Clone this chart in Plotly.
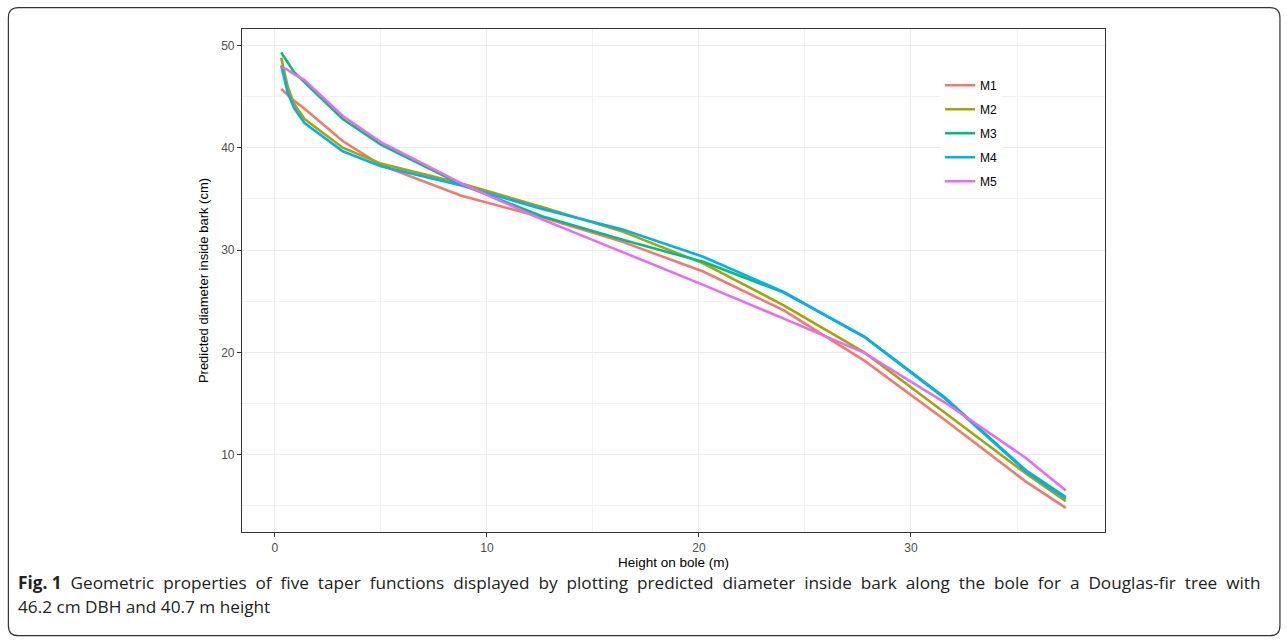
import plotly.graph_objects as go

# Heights on bole (m)
heights = [0.3, 0.6, 0.9, 1.4, 3.2, 5.0, 8.8, 12.6, 16.4, 20.2, 24.0, 27.8, 31.6, 35.4, 37.3]

# Predicted diameter inside bark (cm) for each model
m1 = [45.75, 45.2, 44.6, 43.8, 40.65, 38.3, 35.3, 33.2, 30.8, 27.9, 24.1, 19.2, 13.4, 7.4, 4.8]
m2 = [48.8, 46.0, 44.3, 42.8, 40.0, 38.45, 36.5, 34.2, 31.8, 28.7, 24.6, 20.0, 14.1, 8.2, 5.45]
m3 = [49.3, 48.3, 47.4, 46.4, 42.8, 40.3, 36.4, 33.3, 31.0, 28.85, 25.85, 21.55, 15.6, 8.5, 5.85]
m4 = [48.05, 45.4, 43.9, 42.4, 39.65, 38.2, 36.3, 34.0, 32.0, 29.35, 25.9, 21.5, 15.5, 8.4, 5.7]
m5 = [47.9, 47.6, 47.2, 46.6, 43.1, 40.55, 36.5, 33.0, 29.8, 26.6, 23.3, 19.95, 15.1, 9.7, 6.5]

series_names = ["M1", "M2", "M3", "M4", "M5"]
series_values = [m1, m2, m3, m4, m5]
colors = ["#F8766D", "#A3A500", "#00BF7D", "#00B0F6", "#E76BF3"]

x_ticks = [0, 10, 20, 30]
y_ticks = [10, 20, 30, 40, 50]

caption_bold = "Fig. 1"
caption_line1 = (" Geometric properties of five taper functions displayed by plotting predicted "
                 "diameter inside bark along the bole for a Douglas-fir tree with")
caption_line2 = "46.2 cm DBH and 40.7 m height"

W, H = 1287, 643
L, R, T, B = 241.7, 1105.0, 29.3, 532.3

fig = go.Figure()
for i, (name, vals, col) in enumerate(zip(series_names, series_values, colors)):
    fig.add_trace(go.Scatter(
        x=heights, y=vals, mode="lines", name=name,
        line=dict(color=col, width=2.6),
        legendgroup=name,
    ))

def px_x(p):
    return (p - L) / (R - L)

def px_y(p):
    return (B - p) / (B - T)

# outer rounded frame
x0, y0, x1, y1, r = 8, 8, 1280, 636, 10
path = (f"M {px_x(x0 + r)},{px_y(y0)} L {px_x(x1 - r)},{px_y(y0)} "
        f"Q {px_x(x1)},{px_y(y0)} {px_x(x1)},{px_y(y0 + r)} "
        f"L {px_x(x1)},{px_y(y1 - r)} Q {px_x(x1)},{px_y(y1)} {px_x(x1 - r)},{px_y(y1)} "
        f"L {px_x(x0 + r)},{px_y(y1)} Q {px_x(x0)},{px_y(y1)} {px_x(x0)},{px_y(y1 - r)} "
        f"L {px_x(x0)},{px_y(y0 + r)} Q {px_x(x0)},{px_y(y0)} {px_x(x0 + r)},{px_y(y0)} Z")
fig.add_shape(type="path", path=path, xref="paper", yref="paper",
              line=dict(color="#333333", width=1.2), fillcolor="rgba(0,0,0,0)", layer="above")

# justified first caption line: widen word gaps
line1_text = caption_line1.replace(" ", " &nbsp;")
fig.add_annotation(
    x=px_x(16), y=px_y(583), xref="paper", yref="paper", xanchor="left", yanchor="middle",
    text=f"<b>{caption_bold}</b>{line1_text}", showarrow=False,
    font=dict(family="Open Sans", size=17.2, color="#222222"), align="left")
fig.add_annotation(
    x=px_x(16), y=px_y(607), xref="paper", yref="paper", xanchor="left", yanchor="middle",
    text=caption_line2, showarrow=False,
    font=dict(family="Open Sans", size=17.2, color="#222222"), align="left")

axis_common = dict(
    showline=True, linecolor="#333333", linewidth=1.2, mirror=True,
    ticks="outside", ticklen=4, tickcolor="#333333", tickwidth=1,
    gridcolor="#EBEBEB", gridwidth=1.3, zeroline=False,
    tickfont=dict(family="Liberation Sans, Arial", size=12, color="#4D4D4D"),
)

fig.update_layout(
    width=W, height=H,
    margin=dict(l=L, r=W - R, t=T, b=H - B, pad=0),
    paper_bgcolor="white", plot_bgcolor="white",
    font=dict(family="Liberation Sans, Arial", color="black"),
    xaxis=dict(range=[-1.55, 39.15], tickvals=x_ticks,
               minor=dict(dtick=5, tick0=0, showgrid=True, gridcolor="#F2F2F2", gridwidth=0.8, ticks=""),
               title=dict(text="Height on bole (m)", font=dict(size=13.5, color="black"), standoff=4),
               **axis_common),
    yaxis=dict(range=[2.45, 51.6], tickvals=y_ticks,
               minor=dict(dtick=5, tick0=0, showgrid=True, gridcolor="#F2F2F2", gridwidth=0.8, ticks=""),
               title=dict(text="Predicted diameter inside bark (cm)", font=dict(size=13, color="black"), standoff=9),
               **axis_common),
    legend=dict(x=px_x(940), y=px_y(71), xanchor="left", yanchor="top",
                bgcolor="white", borderwidth=0, itemwidth=30,
                font=dict(family="Liberation Sans, Arial", size=12, color="black"),
                tracegroupgap=5),
    showlegend=True,
)

fig.write_html("out.html", config={"displayModeBar": False},
               post_script="document.body.style.margin='0px';")
